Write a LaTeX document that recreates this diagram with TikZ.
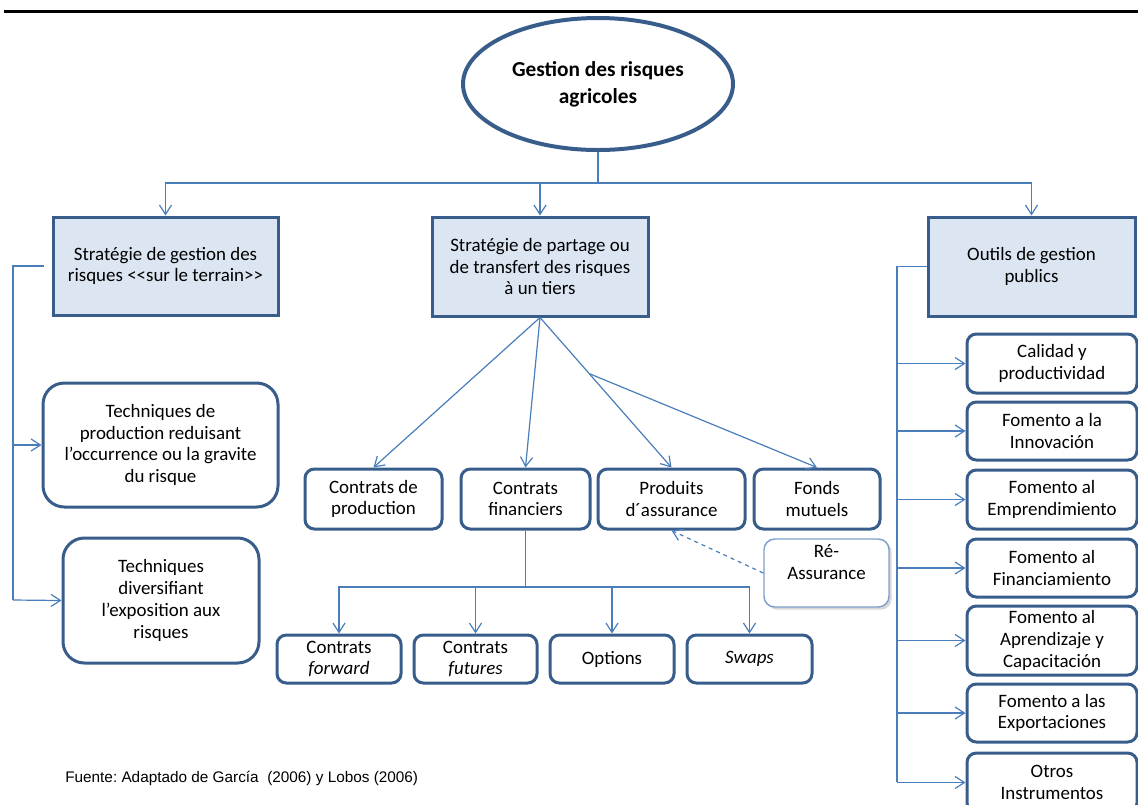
\documentclass[tikz,border=0pt]{standalone}
\usepackage{fontspec}
\setmainfont{Carlito}
\newfontfamily\sourcefont{Liberation Sans}
\usetikzlibrary{shapes.geometric,arrows.meta,calc,shadows}
\definecolor{bordbleu}{HTML}{385D8A}
\definecolor{fondbleu}{HTML}{DCE6F2}
\definecolor{traitbleu}{HTML}{4A7EBB}
\definecolor{bordclair}{HTML}{7F9FCB}
\frenchspacing
\begin{document}
\begin{tikzpicture}[x=0.75pt,y=-0.75pt,
	every node/.style={font=\fontsize{14.2}{16.3}\selectfont,align=center,inner sep=0pt},
	taille/.style 2 args={minimum width=#1*0.75pt,minimum height=#2*0.75pt},
	strategie/.style={draw=bordbleu,fill=fondbleu,line width=2.25pt},
	boite/.style={draw=bordbleu,line width=2.25pt,rounded corners=7pt},
	lien/.style={draw=traitbleu,line width=0.9pt},
	fleche/.style={lien,-{Straight Barb[length=7pt,width=9pt]}}]
	\useasboundingbox (0,0) rectangle (1138,804);
	\draw[line width=2.25pt] (4,11)--(1138,11);
	% racine
	\node[ellipse,draw=bordbleu,line width=3pt,taille={270}{132},font=\bfseries\fontsize{16}{20}\selectfont] (titre) at (598,84) {Gestion des risques\\agricoles};
	% trois strategies
	\node[strategie,taille={225}{98}] (terrain) at (165.5,266) {Stratégie de gestion des\\risques <{}<sur le terrain>{}>};
	\node[strategie,taille={216}{99}] (partage) at (540,266.5) {Stratégie de partage ou\\de transfert des risques\\à un tiers};
	\node[strategie,taille={207}{99}] (publics) at (1031.5,266.5) {Outils de gestion\\publics};
	% colonne de gauche
	\node[boite,rounded corners=16pt,taille={235}{124}] (reduire) at (160.5,445) {Techniques de\\production reduisant\\l’occurrence ou la gravite\\du risque};
	\node[boite,rounded corners=16pt,taille={196}{125}] (diversifier) at (161,600.5) {Techniques\\diversifiant\\l’exposition aux\\risques};
	% partage ou transfert
	\node[boite,taille={137}{60}] (cprod) at (373.5,499) {Contrats de\\production};
	\node[boite,taille={129}{60}] (cfin) at (525.5,499) {Contrats\\financiers};
	\node[boite,taille={147}{60}] (assur) at (671.5,499) {Produits\\d´assurance};
	\node[boite,taille={126}{60}] (fonds) at (817,499) {Fonds\\mutuels};
	\node[draw=bordclair,fill=white,line width=1.1pt,rounded corners=8pt,taille={125}{68},
		drop shadow={shadow xshift=2pt,shadow yshift=-2pt,opacity=0.3,fill=gray}] (reassur) at (826.5,573) {Ré-\\Assurance\\~};
	\node[boite,taille={124}{48}] (forward) at (339,659) {Contrats\\\emph{forward}};
	\node[boite,taille={123}{48}] (futures) at (475.5,659) {Contrats\\\emph{futures}};
	\node[boite,taille={124}{48}] (options) at (612,659) {Options};
	\node[boite,taille={125}{48}] (swaps) at (749.5,659) {\emph{Swaps}};
	% outils publics
	\node[boite,taille={170}{59}] (calidad) at (1052,363.5) {Calidad y\\productividad};
	\node[boite,taille={170}{58}] (innov) at (1052,431) {Fomento a la\\Innovación};
	\node[boite,taille={170}{59}] (empren) at (1052,499.5) {Fomento al\\Emprendimiento};
	\node[boite,taille={170}{58}] (financ) at (1052,568) {Fomento al\\Financiamiento};
	\node[boite,taille={170}{69}] (aprend) at (1052,640.5) {Fomento al\\Aprendizaje y\\Capacitación};
	\node[boite,taille={170}{58}] (export) at (1052,713) {Fomento a las\\Exportaciones};
	\node[boite,taille={170}{59}] (otros) at (1052,782.5) {Otros\\Instrumentos};
	\node[font=\sourcefont\fontsize{11.5}{13}\selectfont,anchor=west] (source) at (65,778) {Fuente: Adaptado de García\ \ (2006) y Lobos (2006)};
	% liaisons
	\coordinate (bus) at (598,183);
	\draw[lien] (titre.south)--(bus);
	\draw[fleche] (bus)-|(terrain.north);
	\draw[fleche] (bus)-|(publics.north);
	\draw[fleche] (partage.north|-bus)--(partage.north);
	\coordinate (gauche) at (13,600);
	\draw[lien] ([xshift=-6pt]terrain.west)-|(gauche);
	\draw[fleche] (gauche)--(diversifier.west);
	\draw[fleche] (gauche|-reduire.west)--(reduire.west);
	\coordinate (droite) at (897,782);
	\draw[lien] (publics.west)-|(droite);
	\foreach \n in {calidad,innov,empren,financ,aprend,export,otros}
		\draw[fleche] (droite|-\n.west)--(\n.west);
	\draw[fleche] (partage.south)--(cprod.north);
	\draw[fleche] (partage.south)--(cfin.north);
	\draw[fleche] (partage.south)--(assur.north);
	\draw[fleche] ($(partage.south)!0.374!(assur.north)$)--(fonds.north);
	\draw[fleche,dashed] (reassur.west)--(assur.south);
	\coordinate (bus2) at (525.5,587);
	\draw[lien] (cfin.south)--(bus2);
	\foreach \n in {forward,futures,options,swaps}
		\draw[fleche] (bus2)-|(\n.north);
\end{tikzpicture}
\end{document}
